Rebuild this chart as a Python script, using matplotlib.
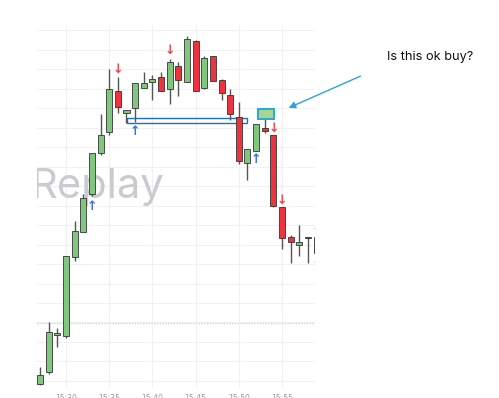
import matplotlib
matplotlib.use("Agg")
import matplotlib.pyplot as plt
from matplotlib.patches import Rectangle, FancyArrowPatch

# ---- data (1-minute candles, 15:27 .. 15:59) ----
times = ["15:27", "15:28", "15:29", "15:30", "15:31", "15:32", "15:33", "15:34", "15:35",
         "15:36", "15:37", "15:38", "15:39", "15:40", "15:41", "15:42", "15:43", "15:44",
         "15:45", "15:46", "15:47", "15:48", "15:49", "15:50", "15:51", "15:52", "15:53",
         "15:54", "15:55", "15:56", "15:57", "15:58", "15:59"]
opens = [98.5, 104.6, 123.6, 123.1, 163.6, 176.4, 195.9, 216.9, 227.7, 248.7, 237.4,
         240.0, 250.3, 253.3, 255.9, 249.7, 261.5, 253.3, 274.4, 250.3, 266.7, 254.4,
         246.7, 235.4, 211.8, 217.9, 229.7, 226.2, 189.2, 173.8, 169.7, 173.8, 173.8]
highs = [107.2, 130.3, 127.2, 164.1, 182.1, 195.9, 216.9, 236.9, 260.0, 255.9, 239.0,
         252.8, 258.5, 256.9, 258.5, 265.1, 263.6, 276.9, 274.9, 266.7, 266.7, 254.9,
         249.7, 243.1, 219.0, 231.8, 234.9, 226.2, 189.2, 174.9, 180.0, 173.8, 174.0]
lows = [98.0, 103.5, 117.4, 122.0, 161.5, 176.4, 194.9, 215.9, 226.2, 237.4, 232.3,
        232.8, 250.3, 244.1, 248.7, 242.1, 246.2, 253.3, 248.7, 250.0, 253.8, 244.0,
        233.8, 211.3, 203.1, 217.9, 227.2, 189.2, 167.7, 160.5, 164.1, 160.5, 164.0]
closes = [103.1, 125.1, 124.6, 164.1, 176.9, 193.8, 216.9, 226.2, 249.7, 240.5, 239.0,
          252.8, 252.8, 254.9, 248.7, 263.6, 254.4, 275.4, 248.7, 265.6, 253.8, 247.7,
          236.9, 212.8, 219.0, 231.8, 228.2, 189.7, 173.3, 171.3, 171.3, 173.3, 165.6]

# signal arrows: (candle index, price)
sell_arrows = [(9, 260.0), (15, 269.5), (27, 229.5), (28, 192.5), (32, 178.5)]
buy_arrows = [(6, 189.5), (11, 228.0), (25, 213.5), (32, 159.0)]

# tick labels
tick_idx = [3, 8, 13, 18, 23, 28]
tick_labels = ["15:30", "15:35", "15:40", "15:45", "15:50", "15:55"]

# zones
zone_x = (10.06, 23.95)
zone_y = (232.3, 234.9)
hl_x = (25.2, 27.1)
hl_y = (234.5, 239.3)
dotted_level = 129.7

GREEN = "#80c67f"
RED = "#ec3340"

fig = plt.figure(figsize=(4.99, 3.98), dpi=100)
W, H = 499, 398
ax = fig.add_axes([37 / W, 1 - 388 / H, (315 - 37) / W, (388 - 25) / H])
ax.set_xlim(-0.36, 31.82)
ax.set_ylim(96.4, 282.6)

for s in ax.spines.values():
    s.set_visible(False)
ax.set_yticks(range(100, 281, 10))
ax.set_yticklabels([])
ax.tick_params(axis="y", length=0)
ax.set_xticks(tick_idx)
ax.set_xticklabels(tick_labels, fontsize=5.5, color="#9a9a9a")
ax.tick_params(axis="x", length=0, pad=4)
ax.grid(True, color="#f1f1f1", lw=0.8)
ax.set_axisbelow(True)

# watermark
ax.text(-1.1, 194.0, "Replay", fontsize=30, color="#cbcbcf",
        va="baseline", ha="left", zorder=1, clip_on=True, family="Inter")

# dotted level
ax.axhline(dotted_level, color="#bfe3bb", lw=1.0, ls=(0, (1, 1)), zorder=1)

# blue zone
ax.add_patch(Rectangle((zone_x[0], zone_y[0]), zone_x[1] - zone_x[0], zone_y[1] - zone_y[0],
                       fill=False, edgecolor="#1f6fc5", lw=1.0, zorder=2))

bw = 0.7
for i, (o, h, l, c) in enumerate(zip(opens, highs, lows, closes)):
    col = GREEN if c >= o else RED
    ax.vlines(i, l, h, color="#555555", lw=1.0, zorder=3)
    lo, hi = min(o, c), max(o, c)
    ax.add_patch(Rectangle((i - bw / 2, lo), bw, max(hi - lo, 0.6), facecolor=col,
                           edgecolor="#333333", lw=0.6, zorder=4))

# highlight box
ax.add_patch(Rectangle((hl_x[0], hl_y[0]), hl_x[1] - hl_x[0], hl_y[1] - hl_y[0],
                       facecolor="#a9d68f", edgecolor="#27a9d9", lw=1.4, zorder=5))

for i, p in sell_arrows:
    ax.text(i, p, "↓", color="#f0444f", fontsize=9, ha="center", va="center",
            fontweight="bold", zorder=6, clip_on=True)
for i, p in buy_arrows:
    ax.text(i, p, "↑", color="#3a6ff0", fontsize=9, ha="center", va="center",
            fontweight="bold", zorder=6, clip_on=True)

# annotation
fig.text(387 / W, 1 - 57 / H, "Is this ok buy?", fontsize=9.2, color="#111111",
         ha="left", va="center", family="Inter")
fig.add_artist(FancyArrowPatch(
    (363 / W, 1 - 75 / H), (286 / W, 1 - 109 / H), transform=fig.transFigure,
    arrowstyle="-|>,head_length=4,head_width=2", color="#2ea4dd", lw=1.0))

fig.savefig("out.png", dpi=100)
